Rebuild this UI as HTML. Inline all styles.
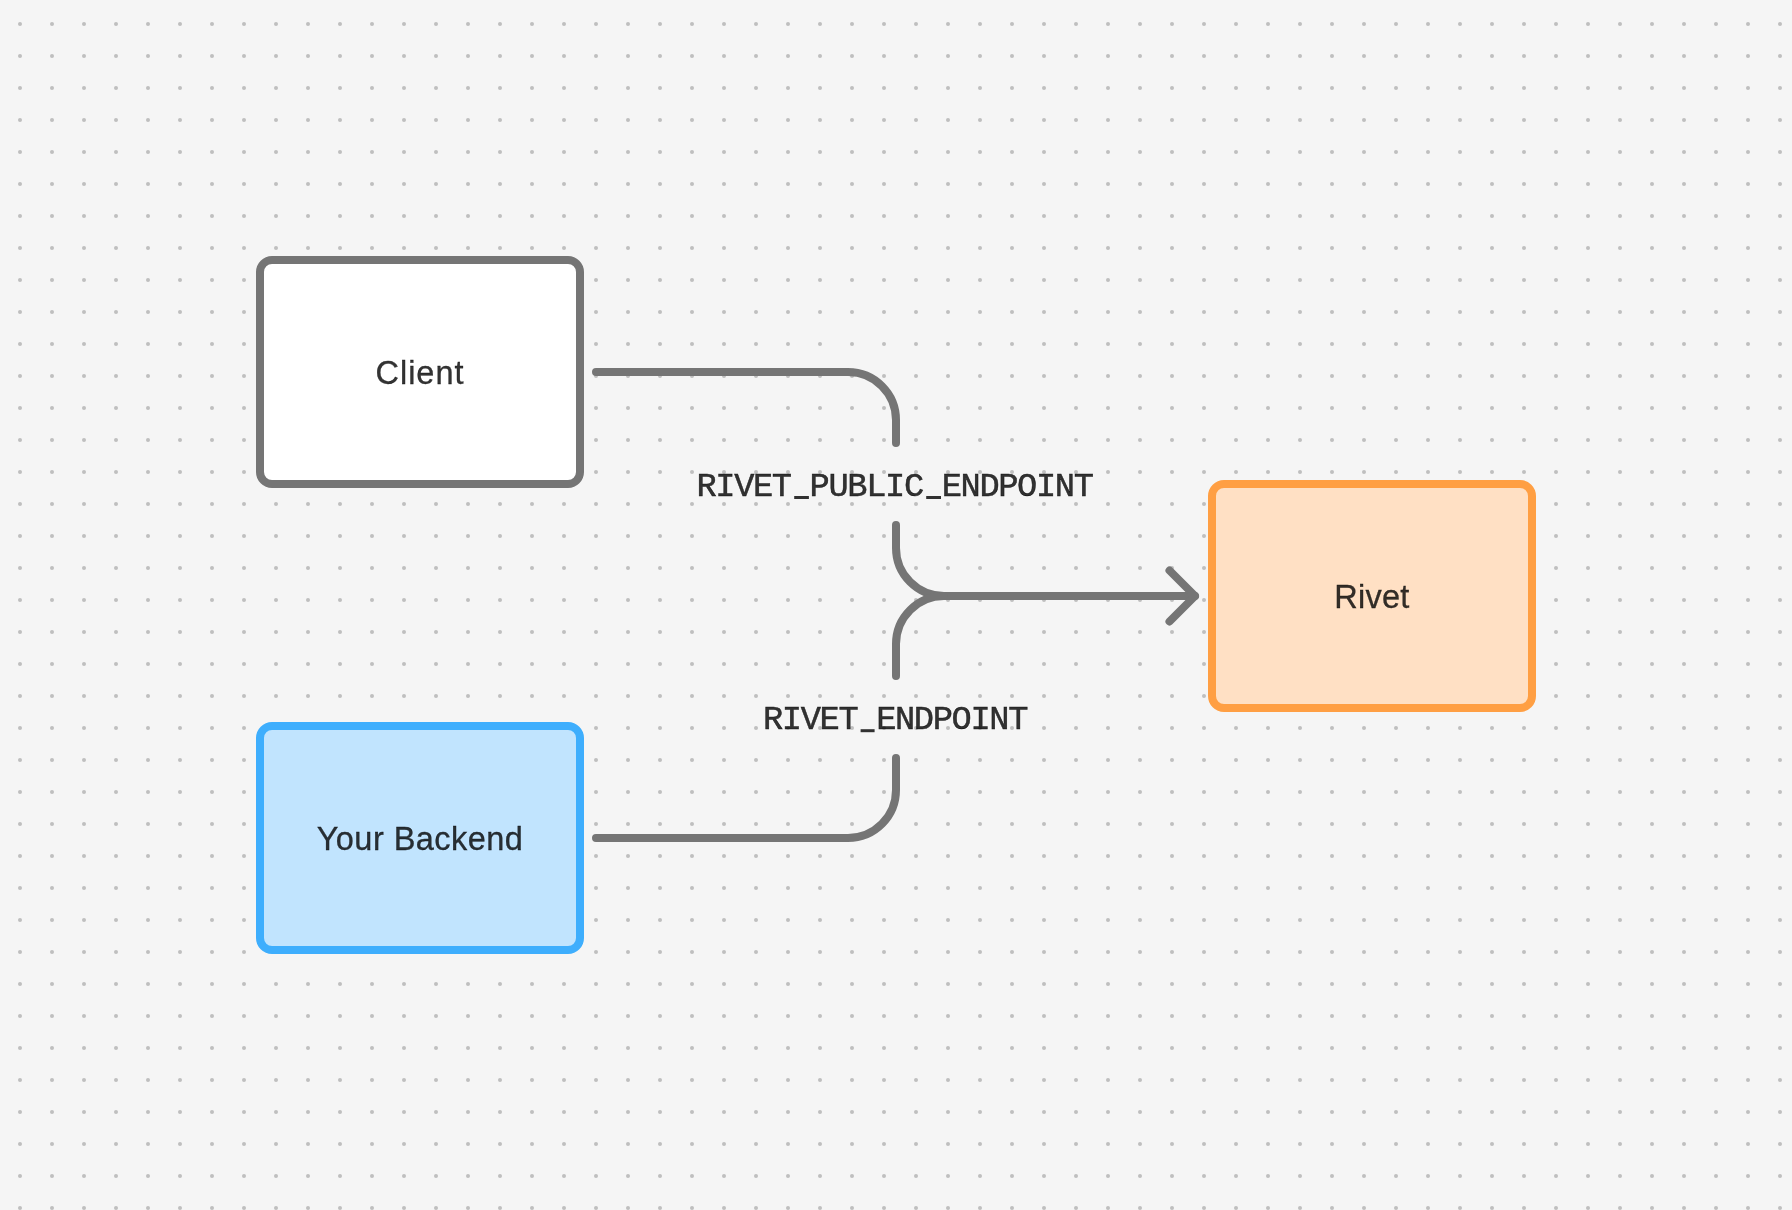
<!DOCTYPE html>
<html><head><meta charset="utf-8">
<style>
html,body{margin:0;padding:0;width:1792px;height:1210px;overflow:hidden;background:#f5f5f5;}
svg{display:block;position:absolute;left:0;top:0;will-change:transform;}
.lbl{font-family:"Liberation Sans",sans-serif;font-size:32.5px;fill:rgba(0,0,0,0.8);stroke:rgba(0,0,0,0.8);stroke-width:0.3px;}
.mono{font-family:"Liberation Mono",monospace;font-size:33.7px;letter-spacing:-1.35px;fill:rgba(0,0,0,0.8);stroke:rgba(0,0,0,0.8);stroke-width:0.5px;}
</style></head>
<body>
<svg width="1792" height="1210" viewBox="0 0 1792 1210">
<defs>
<pattern id="dots" x="4" y="8" width="32" height="32" patternUnits="userSpaceOnUse">
<circle cx="16" cy="16" r="2" fill="#bfbfbf"/>
</pattern>
</defs>
<rect x="0" y="0" width="1792" height="1210" fill="#f5f5f5"/>
<rect x="0" y="0" width="1792" height="1210" fill="url(#dots)"/>
<rect x="260" y="260" width="320" height="224" rx="12" ry="12" fill="#ffffff" stroke="#757575" stroke-width="8"/>
<rect x="260" y="726" width="320" height="224" rx="12" ry="12" fill="#c1e4fe" stroke="#3eaefd" stroke-width="8"/>
<rect x="1212" y="484" width="320" height="224" rx="12" ry="12" fill="#ffe0c4" stroke="#ff9f43" stroke-width="8"/>
<g fill="none" stroke="#757575" stroke-width="8" stroke-linecap="round" stroke-linejoin="round">
<path d="M596,372 H848 A48,48 0 0 1 896,420 V443"/>
<path d="M896,525 V548 A48,48 0 0 0 944,596 H1195"/>
<path d="M896,676 V644 A48,48 0 0 1 944,596"/>
<path d="M596,838 H848 A48,48 0 0 0 896,790 V758"/>
<path d="M1169.5,570.5 L1195,596 L1169.5,621.5"/>
</g>
<text class="lbl" x="420" y="384" text-anchor="middle" style="letter-spacing:0.95px">Client</text>
<text class="lbl" x="420" y="850" text-anchor="middle" style="letter-spacing:0.45px">Your Backend</text>
<text class="lbl" x="1372" y="608" text-anchor="middle" style="letter-spacing:0.25px">Rivet</text>
<text class="mono" x="894.5" y="495.6" text-anchor="middle">RIVET PUBLIC ENDPOINT</text>
<rect x="794.2" y="496" width="14.7" height="3" fill="rgba(0,0,0,0.8)"/>
<rect x="926.2" y="496" width="14.8" height="3" fill="rgba(0,0,0,0.8)"/>
<text class="mono" x="895" y="729" text-anchor="middle">RIVET ENDPOINT</text>
<rect x="860.6" y="729.2" width="14" height="3" fill="rgba(0,0,0,0.8)"/>
</svg>
</body></html>
